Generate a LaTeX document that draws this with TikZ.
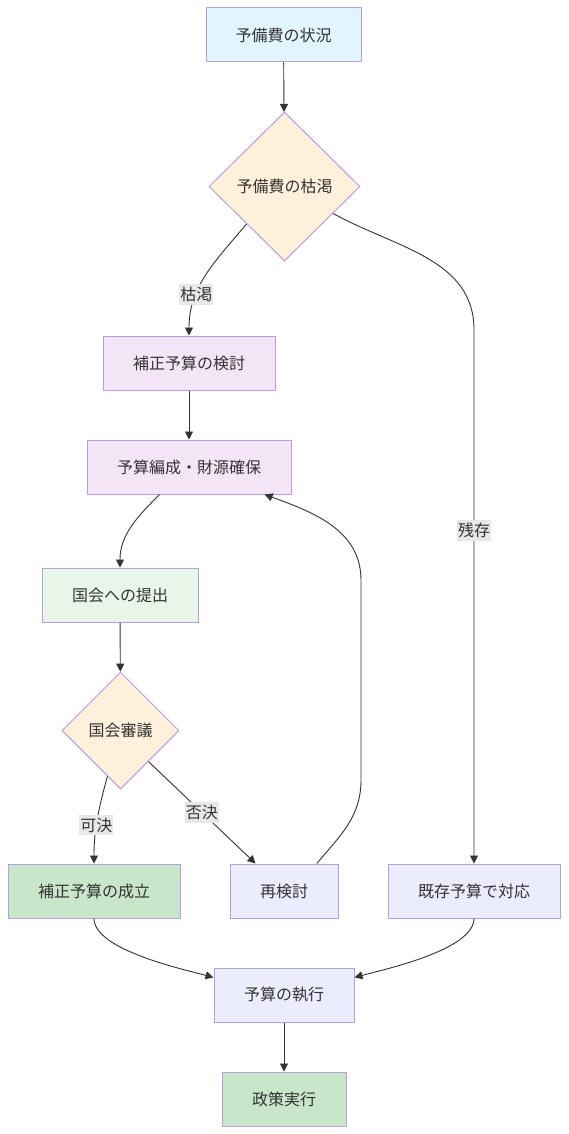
\documentclass[tikz,border=0pt]{standalone}
\usepackage{fontspec}
\setmainfont{Noto Sans CJK JP}
\usetikzlibrary{shapes.geometric,arrows.meta}

\definecolor{ink}{HTML}{333333}
\definecolor{rim}{HTML}{B4A0E0}
\definecolor{skyfill}{HTML}{E1F5FE}
\definecolor{sandfill}{HTML}{FFF0DC}
\definecolor{lilacfill}{HTML}{F3E5F5}
\definecolor{mintfill}{HTML}{E8F5E9}
\definecolor{leaffill}{HTML}{C8E6C9}
\definecolor{plainfill}{HTML}{ECECFF}
\definecolor{tagfill}{HTML}{E8E8E8}

\begin{document}
\begin{tikzpicture}[x=1pt, y=1pt,
  box/.style={draw=rim, line width=1pt, text=ink, inner sep=0pt,
    minimum height=54pt, font=\fontsize{16}{19}\selectfont},
  choice/.style={diamond, aspect=1, draw=rim, line width=1pt, fill=sandfill,
    text=ink, inner sep=0pt, font=\fontsize{16}{19}\selectfont},
  tag/.style={fill=tagfill, text=ink, inner xsep=1pt, inner ysep=3pt,
    font=\fontsize{16}{19}\selectfont},
  arr/.style={draw=ink, line width=0.9pt, -{Triangle[length=8pt,width=8pt]}}]

  % canvas (568 x 1134, y runs downwards as negative)
  \fill[white] (0,0) rectangle (568,-1134);
  \useasboundingbox (0,0) rectangle (568,-1134);

  % Nodes
  \node[box, fill=skyfill, minimum width=155pt] (status) at (283.5,-35) {予備費の状況};
  \node[choice, minimum width=151pt, minimum height=149pt] (depleted) at (284.5,-186.5) {予備費の枯渇};
  \node[box, fill=lilacfill, minimum width=172pt] (review) at (189,-363) {補正予算の検討};
  \node[box, fill=lilacfill, minimum width=204pt] (budget) at (189,-467) {予算編成・財源確保};
  \node[box, fill=mintfill, minimum width=156pt] (submit) at (120,-595) {国会への提出};
  \node[choice, minimum width=117pt, minimum height=117pt] (diet) at (120.5,-730.5) {国会審議};
  \node[box, fill=leaffill, minimum width=172pt] (passed) at (94,-891) {補正予算の成立};
  \node[box, fill=plainfill, minimum width=108pt] (recheck) at (284,-891) {再検討};
  \node[box, fill=plainfill, minimum width=172pt] (existing) at (474,-891) {既存予算で対応};
  \node[box, fill=plainfill, minimum width=140pt] (execute) at (284,-995) {予算の執行};
  \node[box, fill=leaffill, minimum width=124pt] (policy) at (284,-1099) {政策実行};

  % bends of the long connectors
  \coordinate (rest) at (474,-330);
  \coordinate (upA) at (361,-780);
  \coordinate (upB) at (361,-580);

  % Straight arrows
  \foreach \a/\b in {status/depleted, review/budget, submit/diet, execute/policy}
    \draw[arr] (\a) -- (\b);

  % Branches of the decisions
  \draw[arr] (depleted.south west) to[out=-130,in=90] node[tag, pos=0.68] {枯渇} (review.north);
  \draw[arr] (depleted.-29) to[out=-29,in=90] (rest) -- node[tag, pos=0.376] {残存} (existing.north);
  \draw[arr] (budget.-137) to[out=-135,in=90] (submit.north);
  \draw[arr] (diet.-106) to[out=-105,in=90] node[tag, pos=0.57] {可決} (passed.north);
  \draw[arr] (diet.-48) -- node[tag] {否決} (recheck.136);

  % Loop back for another round
  \draw[arr] (recheck.40) to[out=50,in=-90] (upA) -- (upB) to[out=90,in=-20] (budget.-20);

  % Both roads end in execution
  \draw[arr] (passed.south) to[out=-90,in=165,looseness=0.6] (execute.166);
  \draw[arr] (existing.south) to[out=-90,in=15,looseness=0.6] (execute.14);

\end{tikzpicture}
\end{document}
